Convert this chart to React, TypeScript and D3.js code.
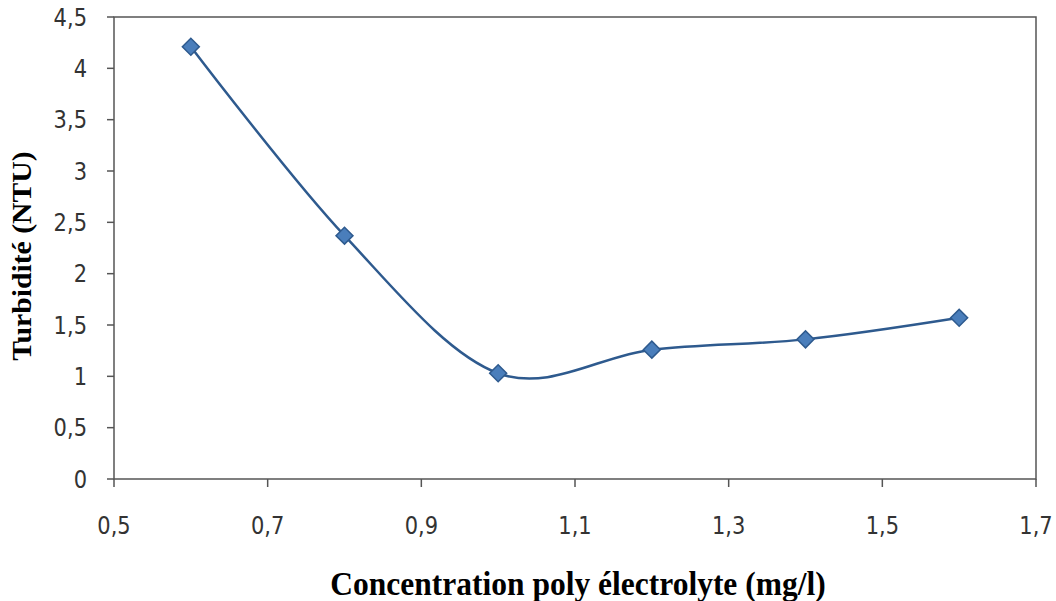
import React from "react";
import * as d3 from "d3";

const concentrations = [0.6, 0.8, 1.0, 1.2, 1.4, 1.6];
const turbidity = [4.21, 2.37, 1.03, 1.26, 1.36, 1.57];
const xTicks = [0.5, 0.7, 0.9, 1.1, 1.3, 1.5, 1.7];
const yTicks = [0, 0.5, 1, 1.5, 2, 2.5, 3, 3.5, 4, 4.5];

const W = 1056;
const H = 601;
const left = 114;
const right = 1036;
const top = 17;
const bottom = 479;
const SY = 1.1; // slight vertical stretch of the titles
const TICK_SY = 1.15; // taller tick numerals

const fmt = (v: number) => String(v).replace(".", ",");

export default function App() {
  const x = d3.scaleLinear().domain([0.5, 1.7]).range([left, right]);
  const y = d3.scaleLinear().domain([0, 4.5]).range([bottom, top]);
  const pts: [number, number][] = concentrations.map((c, i) => [x(c), y(turbidity[i])]);
  const path = d3.line().curve(d3.curveCatmullRom.alpha(0))(pts) || "";
  const axisColor = "#555";
  const tickFont = "'DejaVu Sans', sans-serif";
  const serif = "'Liberation Serif', 'Times New Roman', serif";

  return (
    <svg width={W} height={H} style={{ position: "absolute", left: 0, top: 0, background: "#fff" }}>
      <rect x={left} y={top} width={right - left} height={bottom - top} fill="none" stroke={axisColor} strokeWidth={1.5} />
      {yTicks.map((t) => (
        <g key={"y" + t}>
          <line x1={left - 7} x2={left} y1={y(t)} y2={y(t)} stroke={axisColor} strokeWidth={1.5} />
          <text
            transform={`translate(${left - 27},${y(t)}) scale(1,${TICK_SY})`}
            textAnchor="end"
            dominantBaseline="central"
            fontFamily={tickFont}
            fontSize={21}
            fill="#333"
          >
            {fmt(t)}
          </text>
        </g>
      ))}
      {xTicks.map((t) => (
        <g key={"x" + t}>
          <line x1={x(t)} x2={x(t)} y1={bottom} y2={bottom + 8} stroke={axisColor} strokeWidth={1.5} />
          <text
            transform={`translate(${x(t)},${bottom + 46}) scale(1,${TICK_SY})`}
            textAnchor="middle"
            dominantBaseline="central"
            fontFamily={tickFont}
            fontSize={21}
            fill="#333"
          >
            {fmt(t)}
          </text>
        </g>
      ))}
      <path d={path} fill="none" stroke="#2e5a8e" strokeWidth={2.5} />
      {pts.map(([px, py], i) => (
        <rect
          key={"m" + i}
          x={px - 6}
          y={py - 6}
          width={12}
          height={12}
          transform={`rotate(45,${px},${py})`}
          fill="#4a7ebb"
          stroke="#2e5a8e"
          strokeWidth={1.5}
        />
      ))}
      <text
        transform={`translate(578,595) scale(1,${SY})`}
        textAnchor="middle"
        fontFamily={serif}
        fontWeight="bold"
        fontSize={31.5}
        fill="#000"
      >
        Concentration poly électrolyte (mg/l)
      </text>
      <text
        transform={`translate(31,256) rotate(-90) scale(${SY},1)`}
        textAnchor="middle"
        fontFamily={serif}
        fontWeight="bold"
        fontSize={27}
        fill="#000"
      >
        Turbidité (NTU)
      </text>
    </svg>
  );
}
